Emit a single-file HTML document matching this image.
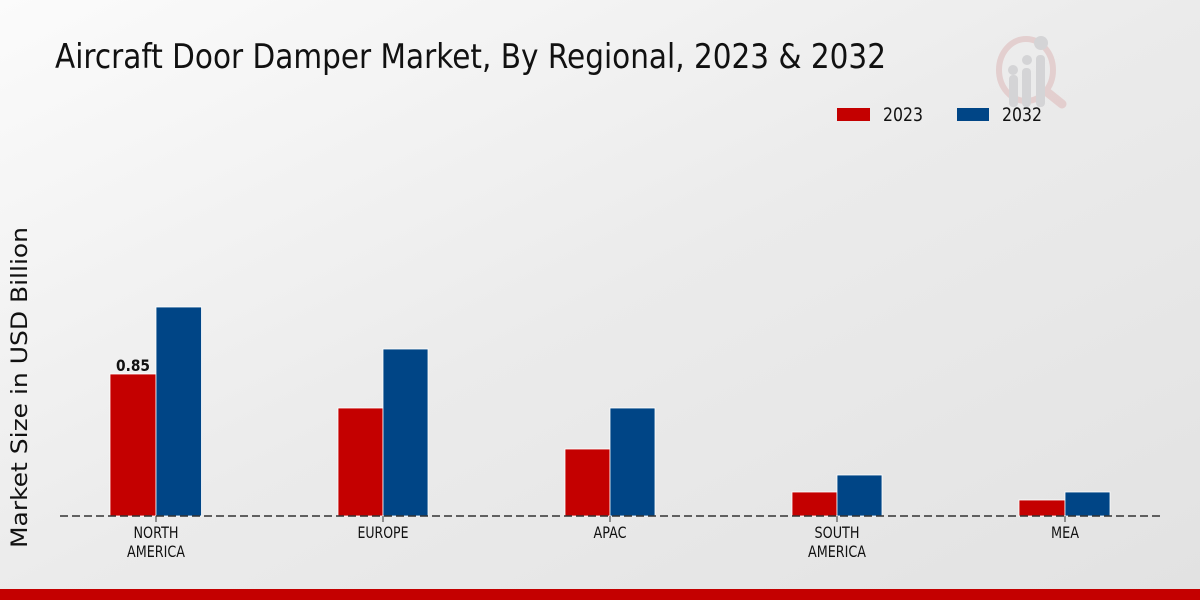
<!DOCTYPE html>
<html><head><meta charset="utf-8"><style>
html,body{margin:0;padding:0;width:1200px;height:600px;overflow:hidden}
svg{display:block}
text{font-family:"DejaVu Sans","Liberation Sans",sans-serif}
</style></head><body>
<svg width="1200" height="600" viewBox="0 0 1200 600" xmlns="http://www.w3.org/2000/svg">
<defs>
<linearGradient id="bg" x1="0" y1="0" x2="1" y2="1">
<stop offset="0" stop-color="#fbfbfb"/>
<stop offset="0.5" stop-color="#ebebeb"/>
<stop offset="1" stop-color="#e2e2e2"/>
</linearGradient>
</defs>
<rect width="1200" height="600" fill="url(#bg)"/>
<text x="55" y="68" font-size="34" fill="#111" textLength="831" lengthAdjust="spacingAndGlyphs">Aircraft Door Damper Market, By Regional, 2023 &amp; 2032</text>
<!-- watermark -->
<g opacity="0.9">
<ellipse cx="1026" cy="70" rx="27" ry="31" fill="none" stroke="#e3cccc" stroke-width="6"/>
<line x1="1047" y1="92" x2="1062" y2="104" stroke="#e3cccc" stroke-width="9" stroke-linecap="round"/>
<rect x="1009" y="75" width="9" height="32" rx="4" fill="#d2d2d4"/>
<rect x="1022" y="68" width="9" height="39" rx="4" fill="#d2d2d4"/>
<rect x="1036" y="55" width="9" height="52" rx="4" fill="#d2d2d4"/>
<circle cx="1013" cy="70" r="5" fill="#d2d2d4"/>
<circle cx="1027" cy="60" r="5" fill="#d2d2d4"/>
<circle cx="1041" cy="43" r="7" fill="#d2d2d4"/>
</g>
<!-- legend -->
<rect x="837" y="108" width="33" height="13" fill="#c40000"/>
<text x="883" y="121" font-size="19" fill="#111" textLength="40" lengthAdjust="spacingAndGlyphs">2023</text>
<rect x="957" y="108" width="32" height="13" fill="#004586"/>
<text x="1002" y="121" font-size="19" fill="#111" textLength="40" lengthAdjust="spacingAndGlyphs">2032</text>
<!-- y label -->
<text transform="translate(27,548) rotate(-90)" font-size="22" fill="#111" textLength="321" lengthAdjust="spacingAndGlyphs">Market Size in USD Billion</text>
<!-- bars -->
<g stroke="#ffffff" stroke-width="0.8">
<rect x="110" y="374" width="46" height="142" fill="#c40000"/>
<rect x="156" y="307" width="45.5" height="209" fill="#004586"/>
<rect x="338" y="408" width="45" height="108" fill="#c40000"/>
<rect x="383" y="349" width="45" height="167" fill="#004586"/>
<rect x="565" y="449" width="45" height="67" fill="#c40000"/>
<rect x="610" y="408" width="45" height="108" fill="#004586"/>
<rect x="792" y="492" width="45" height="24" fill="#c40000"/>
<rect x="837" y="475" width="45" height="41" fill="#004586"/>
<rect x="1019" y="500" width="46" height="16" fill="#c40000"/>
<rect x="1065" y="492" width="45" height="24" fill="#004586"/>
</g>
<text x="133" y="371" font-size="16" font-weight="bold" fill="#111" text-anchor="middle" textLength="34" lengthAdjust="spacingAndGlyphs">0.85</text>
<!-- baseline -->
<line x1="60" y1="516" x2="1160" y2="516" stroke="#333" stroke-width="1.5" stroke-dasharray="8,4"/>
<g stroke="#333" stroke-width="1">
<line x1="156" y1="516" x2="156" y2="522"/>
<line x1="383" y1="516" x2="383" y2="522"/>
<line x1="610" y1="516" x2="610" y2="522"/>
<line x1="837" y1="516" x2="837" y2="522"/>
<line x1="1065" y1="516" x2="1065" y2="522"/>
</g>
<g font-size="16" fill="#111" text-anchor="middle">
<text x="156" y="538" textLength="45" lengthAdjust="spacingAndGlyphs">NORTH</text>
<text x="156" y="557" textLength="58" lengthAdjust="spacingAndGlyphs">AMERICA</text>
<text x="383" y="538" textLength="51" lengthAdjust="spacingAndGlyphs">EUROPE</text>
<text x="610" y="538" textLength="33" lengthAdjust="spacingAndGlyphs">APAC</text>
<text x="837" y="538" textLength="45" lengthAdjust="spacingAndGlyphs">SOUTH</text>
<text x="837" y="557" textLength="58" lengthAdjust="spacingAndGlyphs">AMERICA</text>
<text x="1065" y="538" textLength="28" lengthAdjust="spacingAndGlyphs">MEA</text>
</g>
<rect x="0" y="589" width="1200" height="11" fill="#c40000"/>
</svg>
</body></html>
